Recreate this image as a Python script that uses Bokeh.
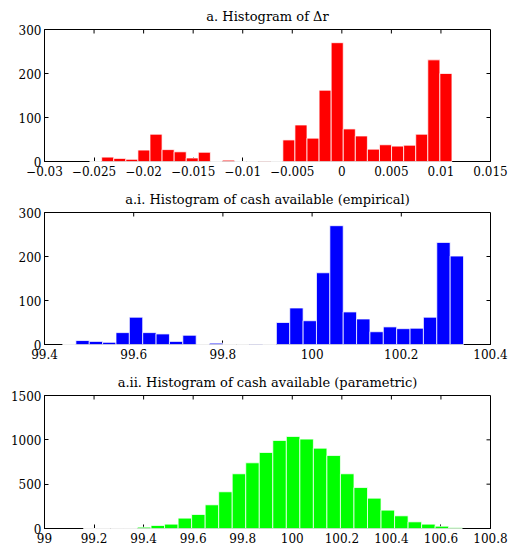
import numpy as np
from bokeh.plotting import figure
from bokeh.models import Range1d, FixedTicker, Title
from bokeh.layouts import column
from bokeh.embed import file_html
from bokeh.resources import INLINE

FONT = "DejaVu Serif"

# ---- data ----
dr_start, dr_width = -0.02545, 0.0012187
dr_counts = [0, 10, 7, 5, 26, 62, 27, 22, 8, 21, 0, 3, 0, 0, 1,
             0, 49, 83, 53, 162, 270, 74, 58, 28, 38, 35, 37, 62, 231, 200]

emp_start, emp_width = 99.4404, 0.02997
emp_counts = [0, 9, 7, 5, 27, 62, 27, 24, 7, 21, 0, 3, 0, 0, 1,
              0, 50, 83, 54, 163, 270, 74, 58, 29, 40, 36, 37, 62, 232, 201]

par_start, par_width = 99.157, 0.0546
par_counts = [0, 0, 0, 0, 15, 34, 49, 117, 158, 267, 414, 617, 741, 857,
              993, 1038, 1008, 906, 823, 617, 462, 342, 207, 143, 75, 49, 26, 11]

x1_ticks = [-0.03, -0.025, -0.02, -0.015, -0.01, -0.005, 0, 0.005, 0.01, 0.015]
x1_labels = ["\u22120.03", "\u22120.025", "\u22120.02", "\u22120.015", "\u22120.01",
             "\u22120.005", "0", "0.005", "0.01", "0.015"]
x2_ticks = [99.4, 99.6, 99.8, 100, 100.2, 100.4]
x2_labels = ["99.4", "99.6", "99.8", "100", "100.2", "100.4"]
x3_ticks = [99, 99.2, 99.4, 99.6, 99.8, 100, 100.2, 100.4, 100.6, 100.8]
x3_labels = ["99", "99.2", "99.4", "99.6", "99.8", "100", "100.2", "100.4", "100.6", "100.8"]
y12_ticks = [0, 100, 200, 300]
y3_ticks = [0, 500, 1000, 1500]

title1 = "a. Histogram of \u0394r"
title2 = "a.i. Histogram of cash available (empirical)"
title3 = "a.ii. Histogram of cash available (parametric)"

TICK_FS = "12px"
TITLE_FS = "13px"
FW = 446


def style_axis(ax):
    ax.major_tick_in = 4
    ax.major_tick_out = 0
    ax.minor_tick_line_color = None
    ax.major_tick_line_color = "black"
    ax.axis_line_color = "black"
    ax.major_label_text_font = FONT
    ax.major_label_text_font_size = TICK_FS
    ax.major_label_text_color = "black"


def make_panel(title, counts, start, width, color, xr, xticks, xlabels, yr, yticks,
               height, btop, bbot):
    fh = height - btop - bbot
    edges = start + width * np.arange(len(counts) + 1)
    p = figure(width=511, height=height, output_backend="svg", toolbar_location=None,
               x_range=Range1d(*xr), y_range=Range1d(*yr),
               min_border_left=44, min_border_right=21,
               min_border_top=btop, min_border_bottom=bbot)
    p.xgrid.visible = False
    p.ygrid.visible = False
    p.outline_line_color = "black"
    p.outline_line_width = 1
    p.outline_line_alpha = 1
    p.quad(left=edges[:-1], right=edges[1:], bottom=0, top=counts,
           fill_color=color, line_color="white", line_width=1, line_alpha=0.75,
           level="overlay")
    p.xaxis.ticker = FixedTicker(ticks=xticks)
    p.xaxis.major_label_overrides = {t: l for t, l in zip(xticks, xlabels)}
    p.xaxis.major_label_standoff = 4
    p.yaxis.ticker = FixedTicker(ticks=yticks)
    p.yaxis.major_label_standoff = 3
    style_axis(p.xaxis[0])
    style_axis(p.yaxis[0])
    # mirrored inward ticks on top and right edges
    xs = (xr[1] - xr[0]) / FW
    ys = (yr[1] - yr[0]) / fh
    xt = [t for t in xticks if xr[0] < t < xr[1]]
    yt = [t for t in yticks if yr[0] < t < yr[1]]
    p.segment(x0=xt, y0=[yr[1]] * len(xt), x1=xt, y1=[yr[1] - 4 * ys] * len(xt),
              line_color="black", line_width=1)
    p.segment(x0=[xr[1]] * len(yt), y0=yt, x1=[xr[1] - 4 * xs] * len(yt), y1=yt,
              line_color="black", line_width=1)
    t = Title(text=title, align="center", text_font=FONT, text_font_size=TITLE_FS,
              text_font_style="normal", text_color="black", standoff=12)
    p.add_layout(t, "above")
    return p


p1 = make_panel(title1, dr_counts, dr_start, dr_width, "#ff0000", (-0.03, 0.015),
                x1_ticks, x1_labels, (0, 300), y12_ticks, 183, 29, 22)
p2 = make_panel(title2, emp_counts, emp_start, emp_width, "#0000ff", (99.4, 100.4),
                x2_ticks, x2_labels, (0, 300), y12_ticks, 183, 29, 22)
p3 = make_panel(title3, par_counts, par_start, par_width, "#00ff00", (99, 100.8),
                x3_ticks, x3_labels, (0, 1500), y3_ticks, 183, 29, 21)

layout = column(p1, p2, p3, spacing=0)
open("out.html", "w").write(file_html(layout, INLINE))
